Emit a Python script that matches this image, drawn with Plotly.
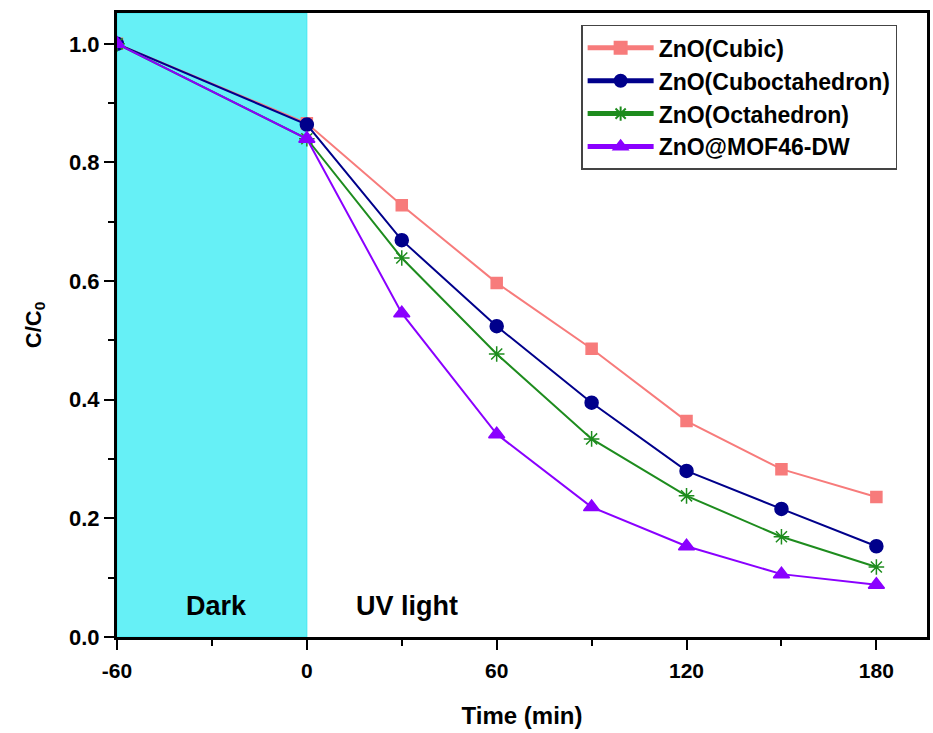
import plotly.graph_objects as go

time = [-60, 0, 30, 60, 90, 120, 150, 180]
cubic = [1.0, 0.866, 0.728, 0.597, 0.486, 0.364, 0.283, 0.236]
cubocta = [1.0, 0.864, 0.669, 0.524, 0.395, 0.280, 0.216, 0.153]
octa = [1.0, 0.840, 0.639, 0.477, 0.334, 0.238, 0.169, 0.118]
mof = [1.0, 0.840, 0.546, 0.342, 0.219, 0.153, 0.106, 0.088]

names = ["<b>ZnO(Cubic)</b>", "<b>ZnO(Cuboctahedron)</b>", "<b>ZnO(Octahedron)</b>", "<b>ZnO@MOF46-DW</b>"]
series = [cubic, cubocta, octa, mof]
colors = ["#F77B7B", "#00008B", "#1E8C1E", "#8A00FF"]
symbols = ["square", "circle", "asterisk-open", "triangle-up"]
sizes = [11, 13, 13, 14]

x_ticks = [-60, 0, 60, 120, 180]
y_ticks = [0.0, 0.2, 0.4, 0.6, 0.8, 1.0]

FONT = "Liberation Sans, Arial, sans-serif"

fig = go.Figure()
fig.add_vrect(x0=-60, x1=0, fillcolor="#66F0F6", line_width=1, line_color="#40E8F0",
              layer="below", opacity=1)

for n, s, c, sym, sz in zip(names, series, colors, symbols, sizes):
    fig.add_trace(go.Scatter(
        x=time, y=s, name=n, mode="lines+markers",
        line=dict(color=c, width=2),
        marker=dict(symbol=sym, size=sz, color=c, line=dict(color=c, width=1.5)),
    ))

fig.add_annotation(x=-28.5, y=0.052, text="<b>Dark</b>", showarrow=False,
                   font=dict(family=FONT, size=27, color="black"))
fig.add_annotation(x=31.5, y=0.052, text="<b>UV light</b>", showarrow=False,
                   font=dict(family=FONT, size=27, color="black"))

fig.update_layout(
    width=933, height=733,
    margin=dict(l=117, r=3, t=13, b=96),
    plot_bgcolor="white", paper_bgcolor="white",
    font=dict(family=FONT, color="black"),
    showlegend=True,
    legend=dict(x=0.573, y=0.981, xanchor="left", yanchor="top",
                bordercolor="#444", borderwidth=1.5, bgcolor="white",
                font=dict(family=FONT, size=23, color="black"),
                itemwidth=66, tracegroupgap=0, itemsizing="constant"),
    xaxis=dict(
        range=[-60, 196], tickvals=x_ticks,
        ticktext=[f"<b>{v}</b>" for v in x_ticks],
        ticks="outside", ticklen=10, tickwidth=2, tickcolor="black",
        ticklabelstandoff=3,
        showline=True, linewidth=3, linecolor="black", mirror=True,
        showgrid=False, zeroline=False,
        tickfont=dict(family=FONT, size=21, color="black"),
        minor=dict(tickvals=[-30, 30, 90, 150], ticks="outside", ticklen=6, tickwidth=2, tickcolor="black"),
        title=dict(text="<b>Time (min)</b>", font=dict(family=FONT, size=24, color="black"), standoff=26),
    ),
    yaxis=dict(
        range=[0, 1.052], tickvals=y_ticks,
        ticktext=[f"<b>{v:.1f}</b>" for v in y_ticks],
        ticks="outside", ticklen=10, tickwidth=2, tickcolor="black",
        showline=True, linewidth=3, linecolor="black", mirror=True,
        showgrid=False, zeroline=False,
        tickfont=dict(family=FONT, size=22, color="black"),
        minor=dict(tickvals=[0.1, 0.3, 0.5, 0.7, 0.9], ticks="outside", ticklen=6, tickwidth=2, tickcolor="black"),
        title=dict(text="<b>C/C<sub>0</sub></b>", font=dict(family=FONT, size=22, color="black"), standoff=22),
    ),
)

fig.write_html("out.html")
